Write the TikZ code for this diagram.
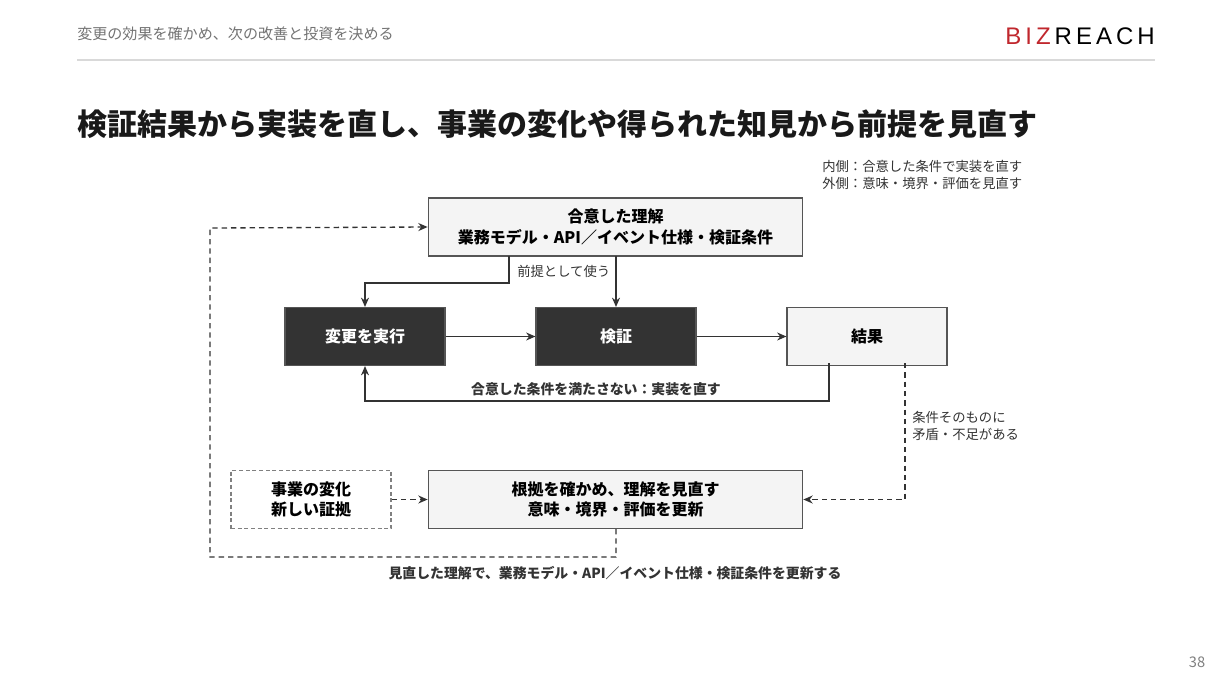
\documentclass[tikz,border=0pt]{standalone}
\usepackage{fontspec}
\setmainfont{Noto Sans CJK JP}
\newfontfamily\logofont{Liberation Sans}
\usetikzlibrary{arrows.meta}
\definecolor{dk}{HTML}{333333}
\definecolor{lt}{HTML}{F4F4F4}
\definecolor{bd}{HTML}{555555}
\definecolor{lred}{HTML}{C0272D}
\begin{document}
\begin{tikzpicture}[x=0.75pt,y=-0.75pt,
 box/.style={draw=bd,line width=0.8pt,minimum height=43.5pt,align=center,font=\fontsize{12}{15.5}\selectfont\bfseries,inner sep=0pt},
 light/.style={box,fill=lt},
 dark/.style={box,fill=dk,text=white,minimum width=120pt},
 con/.style={draw=dk,line width=1pt,-{Stealth[length=7pt,width=6pt]}},
 dcon/.style={con,dash pattern=on 4pt off 3pt},
 lab/.style={font=\fontsize{10}{13}\selectfont,text=dk,inner sep=0pt}]
\useasboundingbox (0,0) rectangle (1232,693);
\node[anchor=west,inner sep=0pt,font=\fontsize{11.3}{13}\selectfont,text=gray!90!black] (hdr) at (77,34) {変更の効果を確かめ、次の改善と投資を決める};
\draw[gray!30,line width=0.8pt] (77,60) -- (1155,60);
\node[anchor=east,inner sep=0pt,font=\logofont\fontsize{18}{18}\selectfont] (logo) at (1155,36) {\textcolor{lred}{B\,I\,Z}\,R\,E\,A\,C\,H};
\node[anchor=west,inner sep=0pt,font=\fontsize{22.5}{26}\selectfont\bfseries,text=black!90] (title) at (77,124) {検証結果から実装を直し、事業の変化や得られた知見から前提を見直す};
\node[anchor=north west,align=left,lab,font=\fontsize{10}{12.8}\selectfont] (note) at (822,160) {内側：合意した条件で実装を直す\\外側：意味・境界・評価を見直す};

\node[light,minimum width=281pt] (und) at (615.5,227) {合意した理解\\業務モデル・API／イベント仕様・検証条件};
\node[dark] (exe) at (365,336.5) {変更を実行};
\node[dark] (ver) at (616,336.5) {検証};
\node[light,minimum width=120pt] (res) at (867,336.5) {結果};
\node[light,minimum width=281pt,minimum height=44pt] (rev) at (615.5,499.5) {根拠を確かめ、理解を見直す\\意味・境界・評価を更新};
\node[box,draw=gray,dash pattern=on 3pt off 2pt,fill=white,minimum width=120pt,minimum height=44pt] (chg) at (311,499.5) {事業の変化\\新しい証拠};

\coordinate (a1) at (509,256);
\coordinate (a2) at (616,256);
\draw[con] (a1) -- (509,283) -- (365,283) -- (exe.north);
\draw[con] (a2) -- (ver.north);
\node[lab,anchor=west] (pre) at (517,271) {前提として使う};
\draw[con] (exe) -- (ver);
\draw[con] (ver) -- (res);
\coordinate (r1) at (829,363);
\draw[con] (r1) -- (829,401) -- (365,401) -- (exe.south);
\node[lab,font=\fontsize{10.4}{13}\selectfont\bfseries] (fix) at (596,389) {合意した条件を満たさない：実装を直す};
\coordinate (r2) at (905,363);
\draw[dcon] (r2) -- (905,499.5) -- (rev.east);
\node[lab,anchor=north west,align=left,font=\fontsize{10}{12.5}\selectfont] (cond) at (912,411) {条件そのものに\\矛盾・不足がある};
\draw[dcon] (chg) -- (rev);
\coordinate (b1) at (616,529);
\draw[dcon] (b1) -- (616,557) -- (210,557) -- (210,228) -- (und.west);
\node[lab,font=\fontsize{10.4}{13}\selectfont\bfseries] (upd) at (615,573) {見直した理解で、業務モデル・API／イベント仕様・検証条件を更新する};
\node[font=\fontsize{11}{13}\selectfont,text=gray] (pg) at (1197,662) {38};
\end{tikzpicture}
\end{document}
